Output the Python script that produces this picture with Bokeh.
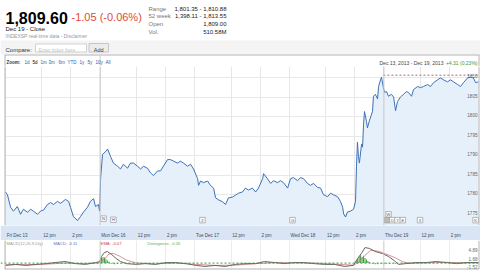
from bokeh.plotting import figure
from bokeh.layouts import column
from bokeh.models import Range1d, FixedTicker, Span
from bokeh.embed import file_html
from bokeh.resources import INLINE
from bokeh.core.properties import value

FONT = "Liberation Sans"

# ---------------- quote header ----------------
last_price = "1,809.60"
change_text = "-1.05 (-0.06%)"
close_note = "Dec 19 - Close"
source_note = "INDEXSP real-time data - Disclaimer"
stat_names = ["Range", "52 week", "Open", "Vol."]
stat_values = ["1,801.35 - 1,810.88", "1,398.11 - 1,813.55", "1,809.00", "510.58M"]
zoom_links = ["1d", "5d", "1m", "3m", "6m", "YTD", "1y", "5y", "10y", "All"]
zoom_selected = "5d"
period_text = "Dec 13, 2013 - Dec 19, 2013"
period_change = "+4.31 (0.23%)"

# ---------------- time axis (minutes of trading since Fri Dec 13 09:30) ----------------
day_opens = [0, 390, 780, 1170, 1560]
day_labels = ["Fri Dec 13", "Mon Dec 16", "Tue Dec 17", "Wed Dec 18", "Thu Dec 19"]
intraday_offsets = [150, 270]          # 12 pm, 2 pm
intraday_labels = ["12 pm", "2 pm"]
session_end = 1950

# ---------------- S&P 500 intraday price ----------------
price_t = [
    0, 8, 21, 33, 49, 62, 74, 91, 103, 115, 132, 144, 157, 173, 186, 198, 214, 227, 247, 260,
    268, 280, 297, 309, 322, 338, 350, 363, 371, 383, 388,
    392, 400, 412, 421, 433, 445, 462, 474, 486, 503, 515, 528, 544, 557, 569, 585, 598, 610,
    627, 639, 651, 668, 680, 693, 709, 721, 734, 750, 763, 775,
    792, 796, 804, 816, 833, 845, 858, 866, 878, 895, 907, 919, 936, 948, 961, 977, 989, 1002,
    1018, 1031, 1043, 1060, 1064, 1080, 1093, 1105, 1121, 1134, 1146, 1163,
    1175, 1187, 1204, 1216, 1229, 1245, 1257, 1270, 1286, 1299, 1311, 1328, 1340, 1352, 1369,
    1381, 1390, 1394, 1402, 1410, 1422, 1435, 1443, 1447, 1451, 1455, 1459, 1468, 1472, 1476,
    1480, 1488, 1492, 1501, 1513, 1517, 1525, 1534, 1538, 1546, 1550, 1558,
    1563, 1571, 1579, 1591, 1600, 1608, 1616, 1628, 1641, 1653, 1661, 1674, 1682, 1699, 1711,
    1723, 1740, 1752, 1765, 1781, 1793, 1806, 1822, 1835, 1847, 1864, 1876, 1888, 1905, 1917,
    1929, 1938, 1950,
]
price = [
    1780.7, 1780.0, 1776.8, 1775.8, 1777.0, 1775.0, 1776.3, 1775.5, 1776.3, 1775.8, 1775.0,
    1775.8, 1776.1, 1777.5, 1778.0, 1777.5, 1778.3, 1777.8, 1778.8, 1778.3, 1776.8, 1774.4,
    1773.4, 1774.4, 1775.6, 1776.8, 1778.3, 1779.0, 1777.0, 1777.5, 1775.8,
    1784.1, 1790.3, 1791.0, 1791.7, 1789.8, 1788.1, 1787.3, 1786.6, 1787.8, 1786.8, 1788.1,
    1788.1, 1787.3, 1786.6, 1787.3, 1786.8, 1785.6, 1784.9, 1786.1, 1786.1, 1787.3, 1789.0,
    1789.0, 1788.6, 1788.1, 1788.6, 1788.1, 1787.3, 1787.8, 1786.6,
    1784.1, 1782.4, 1783.5, 1783.1, 1783.5, 1782.4, 1781.7, 1779.2, 1778.7, 1778.2, 1777.5,
    1779.2, 1779.4, 1779.9, 1780.4, 1780.7, 1781.7, 1781.2, 1781.7, 1780.7, 1781.7, 1784.1,
    1785.4, 1784.1, 1782.9, 1783.6, 1783.1, 1783.6, 1783.1, 1781.7,
    1784.1, 1784.4, 1783.6, 1784.4, 1784.1, 1782.9, 1782.4, 1782.9, 1781.9, 1781.7, 1780.0,
    1779.5, 1780.4, 1780.0, 1779.5, 1778.3, 1776.8, 1775.1, 1774.3, 1775.6, 1775.8, 1776.3,
    1778.3, 1787.3, 1793.5, 1789.8, 1788.1, 1793.0, 1792.2, 1797.9, 1801.3, 1798.8, 1797.1,
    1799.1, 1801.3, 1805.2, 1805.7, 1804.5, 1807.7, 1809.4, 1810.1, 1807.4,
    1806.2, 1806.4, 1805.2, 1805.7, 1805.0, 1801.5, 1803.8, 1805.0, 1805.7, 1806.4, 1806.2,
    1805.2, 1806.9, 1807.7, 1807.4, 1807.7, 1808.2, 1807.7, 1808.7, 1809.4, 1809.9, 1809.4,
    1808.9, 1809.4, 1808.9, 1808.2, 1807.7, 1808.7, 1809.9, 1810.1, 1809.9, 1808.7, 1808.9,
]
price_ticks = [1775, 1780, 1785, 1790, 1795, 1800, 1805, 1810]
price_min, price_max = 1772.13, 1812.82
ref_level = 1810.6
ref_from = 1558

# news / event flags
flag_letters = ["N", "H", "Z", "G", "W", "", "D", "Y", "E", "X", "K"]
flag_t = [404, 445, 812, 1183, 1579, 1573, 1595, 1616, 1638, 1709, 1938]
flag_y = [1773.9, 1773.6, 1773.5, 1773.5, 1775.0, 1773.5, 1773.5, 1773.5, 1773.5, 1773.5, 1773.5]

# ---------------- MACD(12,26,9) ----------------
macd_t = [0, 42, 84, 126, 168, 204, 246, 288, 330, 372, 388, 396, 408, 420, 438, 456, 474, 498,
          540, 576, 618, 660, 702, 744, 786, 822, 864, 906, 948, 990, 1032, 1068, 1110, 1152,
          1188, 1230, 1272, 1314, 1356, 1398, 1434, 1452, 1470, 1482, 1500, 1524, 1554, 1578,
          1602, 1620, 1650, 1692, 1734, 1776, 1818, 1860, 1902, 1950]
macd = [-0.9, -0.5, -0.9, -0.5, -0.2, 0.2, 0.6, -0.2, -0.5, 0.2, 0.6, 2.6, 4.1, 4.5, 3.3, 1.8,
        0.6, -0.2, -0.5, -0.2, -0.5, 0.2, 0.2, -0.2, -0.9, -1.3, -0.9, -1.3, -0.5, -0.2, -0.2,
        0.6, 0.2, -0.2, 0.2, 0.2, -0.2, -0.5, -0.5, -1.3, -0.9, 1.8, 4.1, 6.0, 5.7, 4.5, 3.7,
        2.6, 1.0, -0.5, -0.2, 0.2, 0.2, 0.6, 0.2, -0.2, 0.2, 0.2]
ema_t = [0, 126, 246, 330, 388, 408, 426, 444, 468, 498, 540, 618, 702, 786, 864, 948, 1032,
         1110, 1188, 1272, 1356, 1434, 1458, 1482, 1506, 1536, 1572, 1608, 1638, 1668, 1740,
         1818, 1902, 1950]
ema = [-0.6, -0.6, 0.0, -0.2, 0.1, 1.5, 3.5, 3.8, 2.8, 1.2, 0.0, -0.3, 0.0, -0.5, -0.9, -0.8,
       -0.2, 0.2, 0.1, 0.0, -0.4, -0.8, 0.5, 3.0, 5.0, 4.6, 3.4, 2.0, 0.5, -0.1, 0.1, 0.3, 0.1,
       0.1]
hist_t = [390, 396, 402, 408, 414, 420, 426, 438, 450, 462, 474,
          1446, 1452, 1458, 1464, 1470, 1476, 1482, 1488, 1494, 1500, 1512, 1524, 1536, 1548,
          1560, 1572, 1584, 1596, 1608]
hist = [1.0, 2.0, 2.4, 2.2, 1.6, 1.0, 0.5, -0.3, -0.4, -0.3, -0.2,
        0.8, 1.8, 2.6, 3.0, 2.4, 2.8, 2.0, 1.4, 0.8, 0.4, -0.3, -0.4, -0.4, -0.3,
        -0.4, -0.3, -0.3, -0.2, -0.2]
macd_ticks = [4.89, 1.68, -1.52]
macd_min, macd_max = -2.48, 8.75
macd_legend = ["MACD(12,26,9,Dly)", "MACD: -0.11", "EMA: -0.07", "Divergence: -0.05"]

# ---------------- layout helpers ----------------
W = 480
PX_PER_MIN = 473 / session_end
X_LEFT = -5 / PX_PER_MIN            # canvas x = 0
X_RIGHT = (W - 5) / PX_PER_MIN       # canvas x = 480
BOX_L = -0.5 / PX_PER_MIN            # box border at canvas x = 4.5
BOX_R = session_end + 0.5 / PX_PER_MIN
BOX = "#b4b4b4"
AXIS_FONT_PX = 4.5

# Arial / Liberation Sans advance widths (em) for the axis label characters
CHAR_W = {" ": .278, "D": .722, "F": .611, "M": .833, "T": .611, "W": .944, "c": .5,
          "d": .556, "e": .556, "h": .556, "i": .222, "m": .833, "n": .556, "o": .556,
          "p": .556, "r": .333, "u": .556}


def label_width(s, size):
    return sum(CHAR_W.get(ch, .556) for ch in s) * size


def txt(fig, x, y, s, size, color="#222222", align="left", style="normal",
        baseline="alphabetic", x_offset=0, y_offset=0):
    fig.text(x=[x], y=[y], text=[s], text_font=value(FONT), text_font_size=f"{size}px",
             text_color=color, text_align=align, text_baseline=baseline,
             text_font_style=style, x_offset=x_offset, y_offset=y_offset)


# ---------------- header figure ----------------
hdr = figure(width=W, height=66, x_range=Range1d(0, W), y_range=Range1d(66, 0),
             x_axis_location=None, y_axis_location=None, toolbar_location=None,
             output_backend="svg", min_border=0)
hdr.outline_line_color = None
hdr.grid.visible = False

txt(hdr, 5, 17, last_price, 16, "#000000", style="bold")
txt(hdr, 71, 16.5, change_text, 11, "#dd4b39")
txt(hdr, 5, 28, close_note, 6, "#222222")
txt(hdr, 5, 35, source_note, 5, "#999999")
for i, (n, v) in enumerate(zip(stat_names, stat_values)):
    yb = [8.2, 15.8, 23.8, 31.5][i]
    txt(hdr, 148, yb, n, 6, "#777777")
    txt(hdr, 226, yb, v, 6, "#222222", align="right")

hdr.quad(left=0, right=W, top=40, bottom=54, fill_color="#f4f4f4", line_color=None)
txt(hdr, 5, 49.5, "Compare:", 6, "#333333")
hdr.quad(left=35, right=86, top=43.5, bottom=51.5, fill_color="white", line_color="#c8c8c8",
         line_width=0.8)
txt(hdr, 38, 49.2, "Enter ticker here", 5, "#c4c4c4")
hdr.quad(left=88.5, right=108, top=43, bottom=51.5, fill_color="#ececec", line_color="#bdbdbd",
         line_width=0.8)
txt(hdr, 98.2, 49.4, "Add", 5.5, "#444444", align="center")

hdr.segment(x0=[4], y0=[54.5], x1=[479], y1=[54.5], line_color=BOX, line_width=1)
hdr.segment(x0=[4.5, 478.5], y0=[54.5, 54.5], x1=[4.5, 478.5], y1=[66, 66],
            line_color=BOX, line_width=1)
hdr.segment(x0=[99.6], y0=[55], x1=[99.6], y1=[66], line_color="#cccccc", line_width=1)

txt(hdr, 6, 62.3, "Zoom:", 4.5, "#333333", style="bold")
zoom_x = [24, 32, 40, 48, 58, 67, 79, 87, 95, 105]
for zx, lab in zip(zoom_x, zoom_links):
    col = "#000000" if lab == zoom_selected else "#2a5db0"
    txt(hdr, zx, 62.3, lab, 4.5, col)
txt(hdr, 379, 62.0, period_text, 5, "#444444")
txt(hdr, 477, 62.0, period_change, 5, "#3a9a3a", align="right")

# ---------------- price figure ----------------
xr = Range1d(X_LEFT, X_RIGHT)
p = figure(width=W, height=174, x_range=xr, y_range=Range1d(price_min, price_max),
           y_axis_location=None, toolbar_location=None, output_backend="svg",
           min_border_left=0, min_border_right=0, min_border_top=0, min_border_bottom=8)
p.outline_line_color = None
p.border_fill_color = "#d9e5f4"

grid_x = []
for d in day_opens:
    grid_x += [d] + [d + o for o in intraday_offsets]
p.xgrid.ticker = FixedTicker(ticks=grid_x)
p.xgrid.grid_line_color = "#e6e6e6"
p.ygrid.ticker = FixedTicker(ticks=price_ticks)
p.ygrid.grid_line_color = "#e8e8e8"

# axis labels start just right of their tick: place each label's centre half a label further
axis_ticks = []
overrides = {}
for d, dl in zip(day_opens, day_labels):
    for pos, lab in [(d, dl)] + [(d + o, ol) for o, ol in zip(intraday_offsets, intraday_labels)]:
        shift = (label_width(lab, AXIS_FONT_PX) / 2 + 1.2) / PX_PER_MIN
        c = int(round(pos + shift))
        axis_ticks.append(c)
        overrides[c] = lab
ax = p.xaxis[0]
ax.ticker = FixedTicker(ticks=axis_ticks)
ax.major_label_overrides = overrides
ax.major_tick_line_color = None
ax.minor_tick_line_color = None
ax.axis_line_color = None
ax.major_label_standoff = 1
ax.major_label_text_font = FONT
ax.major_label_text_font_size = f"{AXIS_FONT_PX}px"
ax.major_label_text_color = "#3d4a5c"

p.varea(x=price_t, y1=price_min, y2=price, fill_color="#e6f0fb")
for d in [390, 1560]:
    p.add_layout(Span(location=d, dimension="height", line_color="#c8c8c8", line_width=1))
p.segment(x0=[ref_from], y0=[ref_level], x1=[session_end], y1=[ref_level],
          line_color="#a07070", line_dash="2 2", line_width=1)
p.line(price_t, price, line_color="#3d72b6", line_width=1)

p.rect(x=flag_t, y=flag_y, width=5.5, height=5.5, width_units="screen", height_units="screen",
       fill_color=["#bbbbbb" if f == "" else "white" for f in flag_letters],
       line_color="#9a9a9a", line_width=0.7)
p.text(x=flag_t, y=flag_y, text=flag_letters, text_font=value(FONT), text_font_size="4px",
       text_color="#555555", text_align="center", text_baseline="middle")

p.text(x=[session_end] * len(price_ticks), y=price_ticks, text=[str(v) for v in price_ticks],
       text_font=value(FONT), text_font_size="4.6px", text_color="#666666",
       text_align="right", text_baseline="middle", x_offset=-1, y_offset=-1.5)

# white margins outside the chart box, then the box sides
p.quad(left=[X_LEFT, BOX_R], right=[BOX_L, X_RIGHT], bottom=price_min, top=price_max,
       fill_color="white", line_color=None)
for loc in [BOX_L, BOX_R]:
    p.add_layout(Span(location=loc, dimension="height", line_color=BOX, line_width=1))

# ---------------- MACD figure ----------------
m = figure(width=W, height=32, x_range=xr, y_range=Range1d(macd_min, macd_max),
           x_axis_location=None, y_axis_location=None, toolbar_location=None,
           output_backend="svg", min_border_left=0, min_border_right=0, min_border_top=0,
           min_border_bottom=3)
m.outline_line_color = None
m.xgrid.ticker = FixedTicker(ticks=grid_x)
m.xgrid.grid_line_color = "#ececec"
m.ygrid.visible = False
for d in [390, 1560]:
    m.add_layout(Span(location=d, dimension="height", line_color="#cfcfcf", line_width=1))

leg_x = [4, 198, 392, 585]
leg_c = ["#9a9a9a", "#6d6db3", "#cc4444", "#66aa44"]
for lx, lt, lc in zip(leg_x, macd_legend, leg_c):
    txt(m, lx, 7.7, lt, 4.2, lc, baseline="middle")

m.add_layout(Span(location=0, dimension="width", line_color="#3a9a3a", line_dash="2 2",
                  line_width=1))
m.vbar(x=hist_t, top=hist, bottom=0, width=4, fill_color="#2f9e2f", line_color=None)
m.line(ema_t, ema, line_color="#d07878", line_width=0.8)
m.line(macd_t, macd, line_color="#666666", line_width=1)
m.text(x=[session_end] * len(macd_ticks), y=macd_ticks, text=[f"{v:.2f}" for v in macd_ticks],
       text_font=value(FONT), text_font_size="4.6px", text_color="#666666",
       text_align="right", text_baseline="middle", x_offset=-1)
m.quad(left=[X_LEFT, BOX_R], right=[BOX_L, X_RIGHT], bottom=macd_min, top=macd_max,
       fill_color="white", line_color=None)
for loc in [BOX_L, BOX_R]:
    m.add_layout(Span(location=loc, dimension="height", line_color=BOX, line_width=1))
m.segment(x0=[BOX_L], y0=[macd_min], x1=[BOX_R], y1=[macd_min], line_color=BOX, line_width=2)

layout = column(hdr, p, m, spacing=0)
open("out.html", "w").write(file_html(layout, INLINE))
